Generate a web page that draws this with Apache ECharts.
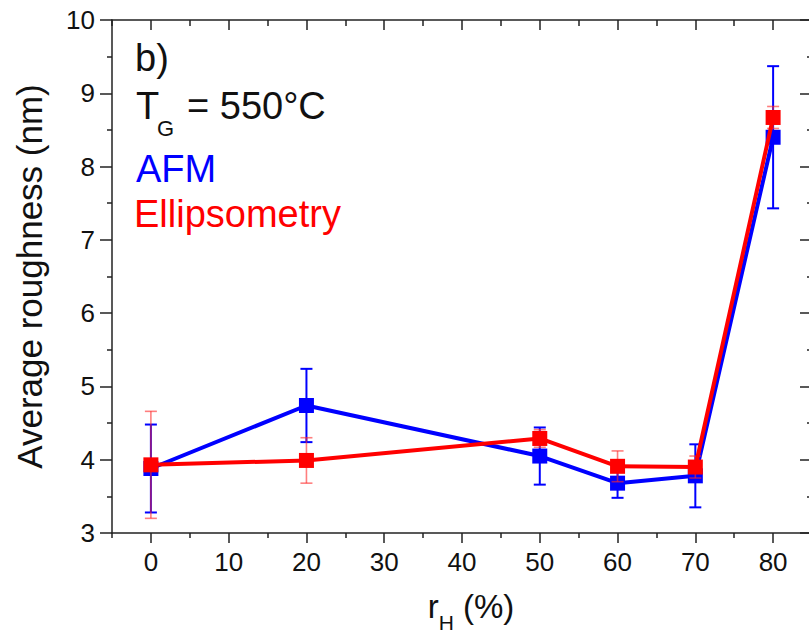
<!DOCTYPE html>
<html>
<head>
<meta charset="utf-8">
<script src="https://cdn.jsdelivr.net/npm/echarts@6/dist/echarts.min.js"></script>
<style>
html,body{margin:0;padding:0;background:#fff;}
#chart{width:809px;height:637px;}
</style>
</head>
<body>
<div id="chart"></div>
<script>
// ---- data ----
var rH = [0, 20, 50, 60, 70, 80];
var afm = [3.88, 4.74, 4.05, 3.68, 3.78, 8.40];
var afmErr = [0.60, 0.50, 0.39, 0.20, 0.43, 0.97];
var ellipsometry = [3.93, 3.99, 4.29, 3.91, 3.90, 8.67];
var ellipsometryErr = [0.73, 0.31, 0.12, 0.21, 0.15, 0.15];
var xTickLabels = [0, 10, 20, 30, 40, 50, 60, 70, 80];
var xMinorTicks = [-5, 5, 15, 25, 35, 45, 55, 65, 75, 85];
var yTickLabels = [3, 4, 5, 6, 7, 8, 9, 10];

var FONT = 'Liberation Sans, Arial, sans-serif';
var BLUE = '#0000ff';
var RED = '#ff0000';
var INK = '#111';

function pairs(xs, ys) { return xs.map(function (x, i) { return [x, ys[i]]; }); }
function errRows(xs, ys, es) { return xs.map(function (x, i) { return [x, ys[i] - es[i], ys[i] + es[i]]; }); }

function errRender(color, width) {
  return function (params, api) {
    var x = api.value(0);
    var lo = api.coord([x, api.value(1)]);
    var hi = api.coord([x, api.value(2)]);
    var cap = 6;
    var st = { stroke: color, lineWidth: width, fill: null };
    return {
      type: 'group',
      children: [
        { type: 'line', shape: { x1: lo[0], y1: lo[1], x2: hi[0], y2: hi[1] }, style: st },
        { type: 'line', shape: { x1: lo[0] - cap, y1: lo[1], x2: lo[0] + cap, y2: lo[1] }, style: st },
        { type: 'line', shape: { x1: hi[0] - cap, y1: hi[1], x2: hi[0] + cap, y2: hi[1] }, style: st }
      ]
    };
  };
}

var chart = echarts.init(document.getElementById('chart'), null, { renderer: 'svg' });

var axisLineStyle = { color: '#222', width: 1.5 };

function tickAxis(pos, values, len, inside, showLine) {
  return {
    type: 'value', position: pos, min: -5, max: 85,
    axisLine: { show: showLine, onZero: false, lineStyle: axisLineStyle },
    axisTick: { show: true, inside: inside, length: len, customValues: values, lineStyle: axisLineStyle },
    splitLine: { show: false },
    axisLabel: { show: false }
  };
}

var option = {
  animation: false,
  backgroundColor: '#fff',
  textStyle: { fontFamily: FONT },
  grid: { left: 112, top: 20, width: 700, height: 513, containLabel: false, outerBoundsMode: 'none' },
  xAxis: [
    {
      type: 'value', position: 'bottom', min: -5, max: 85,
      axisLine: { show: true, onZero: false, lineStyle: axisLineStyle },
      axisTick: { show: true, inside: false, length: 10, customValues: xTickLabels, lineStyle: axisLineStyle },
      splitLine: { show: false },
      axisLabel: {
        show: true, margin: 16, color: INK, fontSize: 26, fontFamily: FONT,
        customValues: xTickLabels
      },
      name: '{a|r}{s|H}{a| (%)}',
      nameLocation: 'middle', nameGap: 54,
      nameTextStyle: {
        padding: [0, 0, 0, 18],
        rich: {
          a: { fontSize: 33, fontFamily: FONT, color: INK, lineHeight: 38, verticalAlign: 'middle' },
          s: { fontSize: 21, fontFamily: FONT, color: INK, lineHeight: 38, verticalAlign: 'bottom', padding: [0, 0, -8, 0] }
        }
      }
    },
    tickAxis('bottom', xMinorTicks, 5, false, false),
    tickAxis('top', xTickLabels, 10, true, true),
    tickAxis('top', xMinorTicks, 6, true, false)
  ],
  yAxis: [
    {
      type: 'value', position: 'left', min: 3, max: 10, interval: 1,
      axisLine: { show: true, onZero: false, lineStyle: axisLineStyle },
      axisTick: { show: true, inside: false, length: 12, lineStyle: axisLineStyle },
      minorTick: { show: true, splitNumber: 2, length: 5, lineStyle: axisLineStyle },
      splitLine: { show: false },
      axisLabel: {
        show: true, margin: 17, color: INK, fontSize: 26, fontFamily: FONT,
        formatter: function (v) { return yTickLabels.indexOf(v) >= 0 ? String(v) : ''; }
      },
      name: 'Average roughness (nm)',
      nameLocation: 'middle', nameRotate: 90, nameGap: 65,
      nameTextStyle: { fontSize: 35, fontFamily: FONT, color: INK }
    },
    {
      type: 'value', position: 'right', min: 3, max: 10, interval: 1,
      axisLine: { show: true, onZero: false, lineStyle: axisLineStyle },
      axisTick: { show: true, inside: true, length: 12, lineStyle: axisLineStyle },
      minorTick: { show: true, splitNumber: 2, length: 5, lineStyle: axisLineStyle },
      splitLine: { show: false },
      axisLabel: { show: false }
    }
  ],
  series: [
    {
      name: 'AFM', type: 'line', xAxisIndex: 0, yAxisIndex: 0,
      data: pairs(rH, afm), z: 2,
      symbol: 'rect', symbolSize: 15, showAllSymbol: true,
      lineStyle: { color: BLUE, width: 4 },
      itemStyle: { color: BLUE, borderWidth: 0 }
    },
    {
      name: 'AFM error', type: 'custom', xAxisIndex: 0, yAxisIndex: 0,
      data: errRows(rH, afm, afmErr), z: 3,
      renderItem: errRender(BLUE, 2),
      encode: { x: 0, y: [1, 2] }
    },
    {
      name: 'Ellipsometry error', type: 'custom', xAxisIndex: 0, yAxisIndex: 0,
      data: errRows(rH, ellipsometry, ellipsometryErr), z: 4,
      renderItem: errRender('rgba(255,40,40,0.6)', 1.6),
      encode: { x: 0, y: [1, 2] }
    },
    {
      name: 'Ellipsometry', type: 'line', xAxisIndex: 0, yAxisIndex: 0,
      data: pairs(rH, ellipsometry), z: 5,
      symbol: 'rect', symbolSize: 15, showAllSymbol: true,
      lineStyle: { color: RED, width: 4 },
      itemStyle: { color: RED, borderWidth: 0 }
    }
  ],
  graphic: [
    { type: 'text', left: 135, top: 39, z: 100, style: { text: 'b)', fontSize: 38, fontFamily: FONT, fill: INK } },
    { type: 'text', left: 136, top: 87, z: 100, style: { text: 'T', fontSize: 38, fontFamily: FONT, fill: INK } },
    { type: 'text', left: 157, top: 117, z: 100, style: { text: 'G', fontSize: 22, fontFamily: FONT, fill: INK } },
    { type: 'text', left: 187, top: 87, z: 100, style: { text: '= 550°C', fontSize: 38, fontFamily: FONT, fill: INK } },
    { type: 'text', left: 136, top: 150, z: 100, style: { text: 'AFM', fontSize: 38, fontFamily: FONT, fill: BLUE } },
    { type: 'text', left: 134, top: 195, z: 100, style: { text: 'Ellipsometry', fontSize: 38, fontFamily: FONT, fill: RED } }
  ]
};

chart.setOption(option);
</script>
</body>
</html>
